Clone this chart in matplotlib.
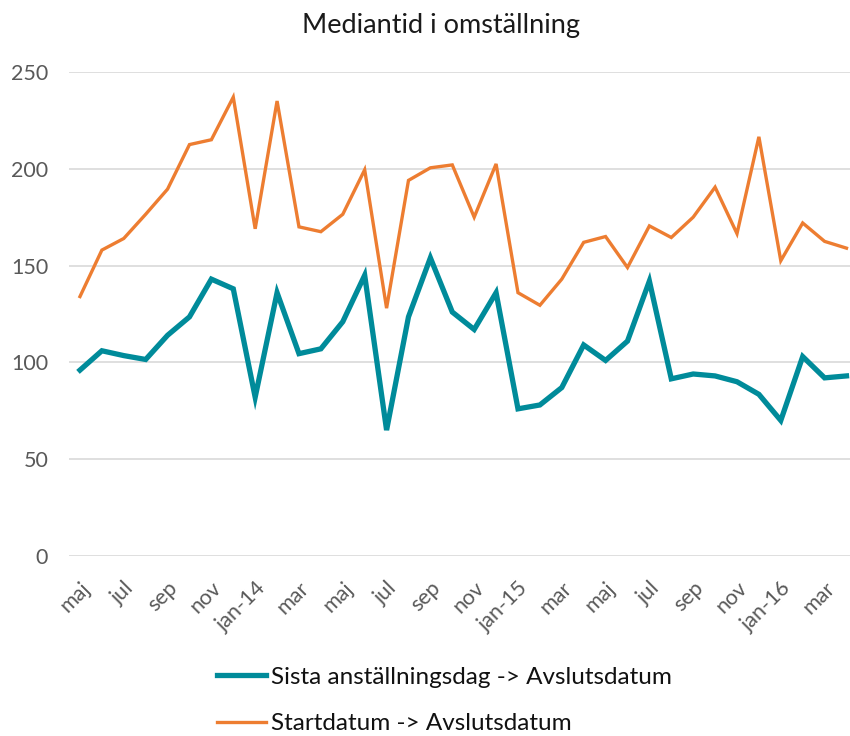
import matplotlib.pyplot as plt
import numpy as np

# månader maj 2013 - apr 2016
months = ['maj', 'jun', 'jul', 'aug', 'sep', 'okt', 'nov', 'dec',
          'jan-14', 'feb', 'mar', 'apr', 'maj', 'jun', 'jul', 'aug', 'sep', 'okt', 'nov', 'dec',
          'jan-15', 'feb', 'mar', 'apr', 'maj', 'jun', 'jul', 'aug', 'sep', 'okt', 'nov', 'dec',
          'jan-16', 'feb', 'mar', 'apr']

sista = [96, 106, 103.5, 101.5, 114, 123.5, 143, 138,
         82, 136, 104.5, 107, 121, 145, 65, 123.5, 154, 126, 117, 136,
         76, 78, 87, 109, 101, 111, 142, 91.5, 94, 93, 90, 83.5,
         70, 103, 92, 93]

start = [134, 158, 164, 176.5, 189.5, 212.5, 215, 237,
         169, 235, 170, 167.5, 176.5, 199.5, 128, 194, 200.5, 202, 175, 202.5,
         136, 129.5, 143, 162, 165, 149, 170.5, 164.5, 175, 190.5, 166.5, 216.5,
         152.5, 172, 162.5, 159]

teal = '#008B9A'
orange = '#ED7D31'
grey = '#595959'

plt.rcParams['font.family'] = ['Lato', 'DejaVu Sans']

fig = plt.figure(figsize=(8.5, 7.36), dpi=100)
ax = fig.add_axes([0.0812, 0.2446, 0.9188, 0.6576])

x = np.arange(len(months))
ax.plot(x, sista, color=teal, lw=3.8, label='Sista anställningsdag -> Avslutsdatum', solid_joinstyle='miter')
ax.plot(x, start, color=orange, lw=2.4, label='Startdatum -> Avslutsdatum', solid_joinstyle='miter')

ax.set_ylim(0, 250)
ax.set_xlim(-0.5, 35.16)
ax.set_yticks(range(0, 251, 50))
ax.yaxis.grid(True, color='#D9D9D9', lw=1.2)
ax.set_axisbelow(True)
for s in ax.spines.values():
    s.set_visible(False)
ax.tick_params(length=0, labelsize=15.5, colors=grey)
ax.tick_params(axis='y', pad=15)
ax.tick_params(axis='x', pad=16)

ax.set_xticks(x[::2])
ax.set_xticklabels(months[::2], rotation=45, ha='right', rotation_mode='anchor')

fig.text(0.519, 0.966, 'Mediantid i omställning', ha='center', va='center',
         fontsize=19.5, color='#1a1a1a')

fig.legend(loc='center', bbox_to_anchor=(0.523, 0.048), frameon=False, fontsize=17.5,
           labelspacing=1.05, handlelength=2.0, handletextpad=0.2, labelcolor='#111111')

fig.savefig('out.png', dpi=100)
